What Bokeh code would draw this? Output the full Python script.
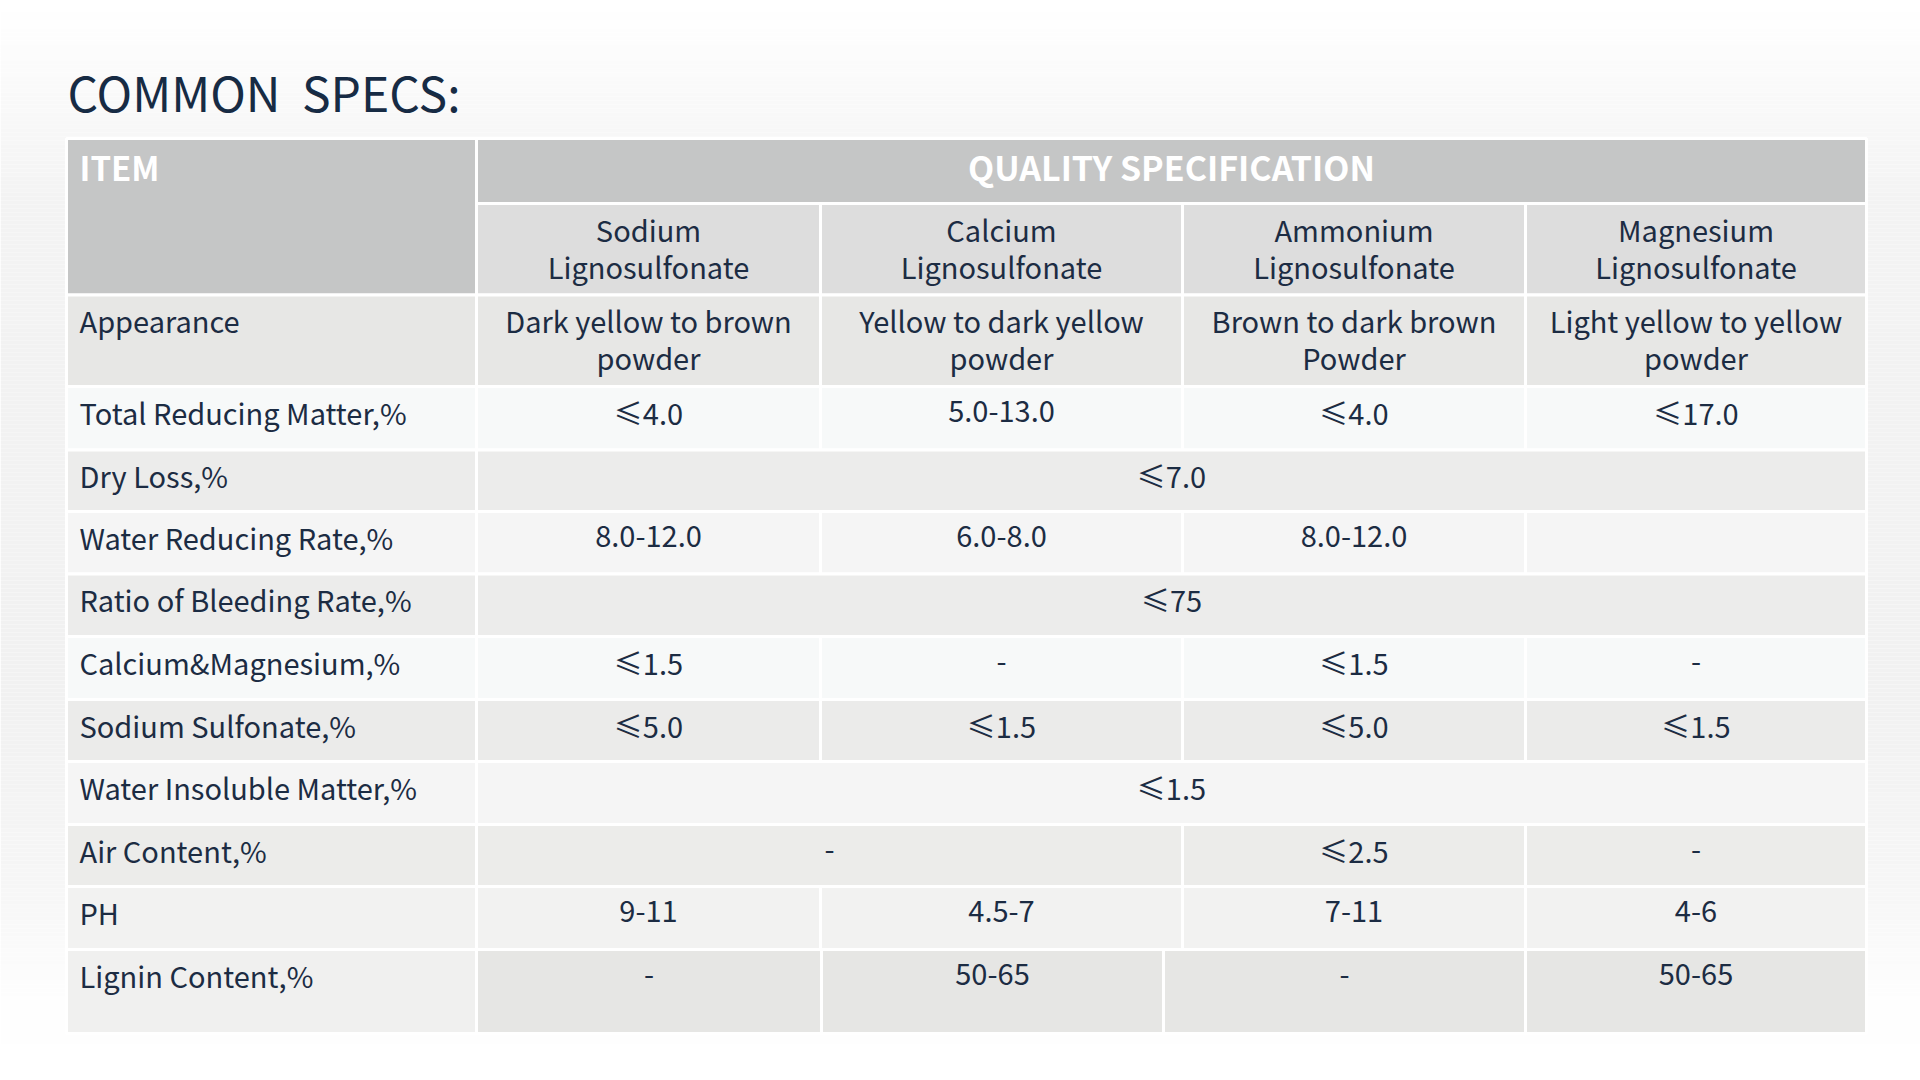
from bokeh.plotting import figure
from bokeh.models import Range1d, ColumnDataSource
from bokeh.embed import file_html
from bokeh.resources import INLINE
from bokeh.core.properties import value

# ---------------- data ----------------
TITLE = "COMMON\u00a0 SPECS:"
HEAD_ITEM = "ITEM"
HEAD_GROUP = "QUALITY SPECIFICATION"
products = ["Sodium\nLignosulfonate", "Calcium\nLignosulfonate",
            "Ammonium\nLignosulfonate", "Magnesium\nLignosulfonate"]
items = ["Appearance", "Total Reducing Matter,%", "Dry Loss,%", "Water Reducing Rate,%",
         "Ratio of Bleeding Rate,%", "Calcium&Magnesium,%", "Sodium Sulfonate,%",
         "Water Insoluble Matter,%", "Air Content,%", "PH", "Lignin Content,%"]
# None = merged into the cell on its left
appearance = ["Dark yellow to brown\npowder", "Yellow to dark yellow\npowder",
              "Brown to dark brown\nPowder", "Light yellow to yellow\npowder"]
total_reducing = ["≤4.0", "5.0-13.0", "≤4.0", "≤17.0"]
dry_loss = ["≤7.0", None, None, None]
water_reducing = ["8.0-12.0", "6.0-8.0", "8.0-12.0", ""]
bleeding = ["≤75", None, None, None]
ca_mg = ["≤1.5", "-", "≤1.5", "-"]
sodium_sulfonate = ["≤5.0", "≤1.5", "≤5.0", "≤1.5"]
insoluble = ["≤1.5", None, None, None]
air_content = ["-", None, "≤2.5", "-"]
ph = ["9-11", "4.5-7", "7-11", "4-6"]
lignin = ["-", "50-65", "-", "50-65"]
values = [appearance, total_reducing, dry_loss, water_reducing, bleeding, ca_mg,
          sodium_sulfonate, insoluble, air_content, ph, lignin]

# ---------------- layout / style ----------------
FONT = value("Noto Sans CJK SC")
TXT = "#1c2c43"
col_edges = [66, 476, 820, 1182, 1525, 1866]
lignin_edges = [66, 476, 821, 1163, 1525, 1866]
head_top, head_mid, head_bot = 138, 203, 294.5
row_edges = [294.5, 386, 449.5, 511, 573.5, 636, 699, 761, 824, 886, 949, 1033]
row_fill = ["#e7e7e5", "#f7f9f9", "#ececeb", "#f5f5f5", "#ececeb", "#f7f9f9",
            "#ebebea", "#f5f5f5", "#ececea", "#f2f2f1", "#e6e6e4"]
item_fill = row_fill[:-1] + ["#f0f0ef"]
LINE_GAP = 37
PAD_Y = 25

p = figure(width=1920, height=1080, x_range=Range1d(0, 1920), y_range=Range1d(1080, 0),
           output_backend="svg", toolbar_location=None, min_border=0,
           x_axis_location=None, y_axis_location=None)
p.grid.visible = False
p.outline_line_color = None
p.background_fill_color = "white"
p.border_fill_color = "white"

# background vertical gradient (decoration)
stops = [(0, 255), (50, 252), (200, 243), (700, 241), (880, 246), (1000, 254), (1080, 255)]
bg_t, bg_b, bg_c = [], [], []
y = 0
while y < 1080:
    for (y0, g0), (y1, g1) in zip(stops[:-1], stops[1:]):
        if y0 <= y <= y1:
            g = int(round(g0 + (g1 - g0) * (y - y0) / (y1 - y0)))
            break
    bg_t.append(y); bg_b.append(y + 4); bg_c.append("#%02x%02x%02x" % (g, g, g))
    y += 4
p.quad(left=0, right=1920, top=bg_t, bottom=bg_b, fill_color=bg_c, line_color=None)

# ---------------- cells ----------------
cl, cr, ct, cb, cc = [], [], [], [], []
def cell(l, r, t, b, c):
    cl.append(l); cr.append(r); ct.append(t); cb.append(b); cc.append(c)

cell(col_edges[0], col_edges[1], head_top, head_bot, "#c5c6c6")
cell(col_edges[1], col_edges[-1], head_top, head_mid, "#c5c6c6")
for i in range(len(products)):
    cell(col_edges[i + 1], col_edges[i + 2], head_mid, head_bot, "#dddddd")

lt_x, lt_y, lt_s = [], [], []      # left aligned texts
ct_x, ct_y, ct_s = [], [], []      # centered texts

def put_lines(x, top, s, xs, ys, ss, pad=PAD_Y):
    for k, line in enumerate(s.split("\n")):
        xs.append(x); ys.append(top + pad + k * LINE_GAP); ss.append(line)

for i, name in enumerate(products):
    put_lines((col_edges[i + 1] + col_edges[i + 2]) / 2, head_mid, name, ct_x, ct_y, ct_s, pad=25)

for r, (label, vals) in enumerate(zip(items, values)):
    top, bot = row_edges[r], row_edges[r + 1]
    edges = lignin_edges if label.startswith("Lignin") else col_edges
    cell(edges[0], edges[1], top, bot, item_fill[r])
    put_lines(79, top, label, lt_x, lt_y, lt_s)
    j = 0
    while j < len(vals):
        k = j + 1
        while k < len(vals) and vals[k] is None:
            k += 1
        l, rr = edges[j + 1], edges[k + 1]
        cell(l, rr, top, bot, row_fill[r])
        if vals[j]:
            put_lines((l + rr) / 2, top, vals[j], ct_x, ct_y, ct_s)
        j = k

p.quad(left=cl, right=cr, top=ct, bottom=cb, fill_color=cc, line_color="white", line_width=3)

# ---------------- texts ----------------
p.text(x=[67], y=[90], text=[TITLE], text_font=FONT, text_font_size="48px",
       text_color="#172b44", text_align="left", text_baseline="middle")
p.text(x=[79], y=[166], text=[HEAD_ITEM], text_font=FONT, text_font_size="33px",
       text_font_style="bold", text_color="white", text_align="left", text_baseline="middle")
p.text(x=[(col_edges[1] + col_edges[-1]) / 2], y=[166], text=[HEAD_GROUP], text_font=FONT,
       text_font_size="34px", text_font_style="bold", text_color="white",
       text_align="center", text_baseline="middle")
p.text(x="x", y="y", text="t", source=ColumnDataSource(dict(x=lt_x, y=lt_y, t=lt_s)),
       text_font=FONT, text_font_size="29px", text_color=TXT,
       text_align="left", text_baseline="middle")
p.text(x="x", y="y", text="t", source=ColumnDataSource(dict(x=ct_x, y=ct_y, t=ct_s)),
       text_font=FONT, text_font_size="29px", text_color=TXT,
       text_align="center", text_baseline="middle")

open("out.html", "w").write(file_html(p, INLINE))
